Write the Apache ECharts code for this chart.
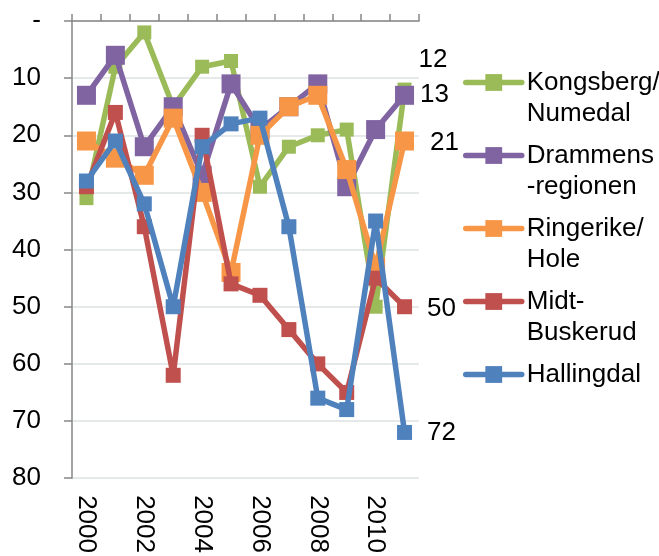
<!DOCTYPE html>
<html>
<head>
<meta charset="utf-8">
<script src="https://cdn.jsdelivr.net/npm/echarts@6/dist/echarts.min.js"></script>
<style>
  html, body { margin: 0; padding: 0; background: #ffffff; }
  #chart { width: 659px; height: 556px; }
</style>
</head>
<body>
<div id="chart"></div>
<script>
// Rankings per region, 2000–2011 (lower rank = better, so the value axis runs downwards)
const years = ['2000', '2001', '2002', '2003', '2004', '2005', '2006', '2007', '2008', '2009', '2010', '2011'];
const regionNames = ['Kongsberg/\nNumedal', 'Drammens\n-regionen', 'Ringerike/\nHole', 'Midt-\nBuskerud', 'Hallingdal'];
const kongsberg = [31, 8, 2, 15, 8, 7, 29, 22, 20, 19, 50, 12];
const drammen   = [13, 6, 22, 15, 27, 11, 19, 15, 11, 29, 19, 13];
const ringerike = [21, 24, 27, 17, 30, 44, 20, 15, 13, 26, 43, 21];
const midtBusk  = [29, 16, 36, 62, 20, 46, 48, 54, 60, 65, 45, 50];
const hallingdal = [28, 21, 32, 50, 22, 18, 17, 36, 66, 68, 35, 72];
const yTicks = ['-', '10', '20', '30', '40', '50', '60', '70', '80'];

const FONT = 'Liberation Sans, Arial, Helvetica, sans-serif';
const colors = ['#9BBB59', '#8064A2', '#F79646', '#C0504D', '#4F81BD'];
const symbolSizes = [14, 19, 19, 15, 15];
// placement of the value label written beside each series' final point
const endLabel = [
  { distance: 7, offset: [0, -30] },
  { distance: 6, offset: [0, 0] },
  { distance: 16, offset: [0, 2] },
  { distance: 15, offset: [0, 2] },
  { distance: 15, offset: [0, 0] }
];
const seriesValues = [kongsberg, drammen, ringerike, midtBusk, hallingdal];

const series = seriesValues.map((vals, i) => ({
  name: regionNames[i],
  type: 'line',
  xAxisIndex: 0,
  yAxisIndex: 0,
  symbol: 'rect',
  symbolSize: symbolSizes[i],
  color: colors[i],
  lineStyle: { width: 5.5, color: colors[i] },
  itemStyle: { color: colors[i] },
  z: 2 + i,
  data: vals.map((v, j) => j === vals.length - 1 ? {
    value: v,
    label: {
      show: true,
      position: 'right',
      distance: endLabel[i].distance,
      offset: endLabel[i].offset,
      color: '#000',
      fontFamily: FONT,
      fontSize: 26,
      formatter: p => String(p.value)
    }
  } : v),
  emphasis: { disabled: true },
  animation: false
}));

const chart = echarts.init(document.getElementById('chart'), null, { renderer: 'canvas' });
chart.setOption({
  backgroundColor: '#ffffff',
  animation: false,
  grid: { left: 72, top: 21, width: 347, height: 460, containLabel: false },
  legend: {
    orient: 'vertical',
    left: 463,
    top: 36,
    itemWidth: 56,
    itemHeight: 21,
    itemGap: -20,
    padding: 0,
    data: regionNames,
    formatter: name => '\n' + name + (name.indexOf('\n') === -1 ? '\n' : ''),
    lineStyle: { width: 5.5, cap: 'round' },
    textStyle: { fontFamily: FONT, fontSize: 26, color: '#000', lineHeight: 31 },
    selectedMode: false
  },
  xAxis: [
    {
      type: 'category',
      position: 'bottom',
      data: years,
      boundaryGap: true,
      axisLine: { show: false },
      axisTick: { show: false },
      axisLabel: {
        interval: 1,
        rotate: -90,
        margin: 17,
        fontFamily: FONT,
        fontSize: 26,
        color: '#000'
      },
      splitLine: { show: false }
    },
    {
      type: 'category',
      position: 'top',
      data: years,
      boundaryGap: true,
      axisLine: { show: true, onZero: false, lineStyle: { color: '#868686', width: 1.5 } },
      axisTick: { show: true, inside: false, length: 7, interval: 0, lineStyle: { color: '#868686', width: 1.5 } },
      axisLabel: { show: false },
      splitLine: { show: false }
    }
  ],
  yAxis: {
    type: 'value',
    inverse: true,
    min: 0,
    max: 80,
    interval: 10,
    axisLine: { show: true, onZero: false, lineStyle: { color: '#868686', width: 1.5 } },
    axisTick: { show: true, inside: false, length: 8, lineStyle: { color: '#868686', width: 1.5 } },
    axisLabel: {
      margin: 31,
      fontFamily: FONT,
      fontSize: 26,
      color: '#000',
      formatter: v => yTicks[Math.round(v / 10)]
    },
    splitLine: { show: true, lineStyle: { color: '#dce2e2', width: 1.5 } }
  },
  series: series
});
</script>
</body>
</html>
